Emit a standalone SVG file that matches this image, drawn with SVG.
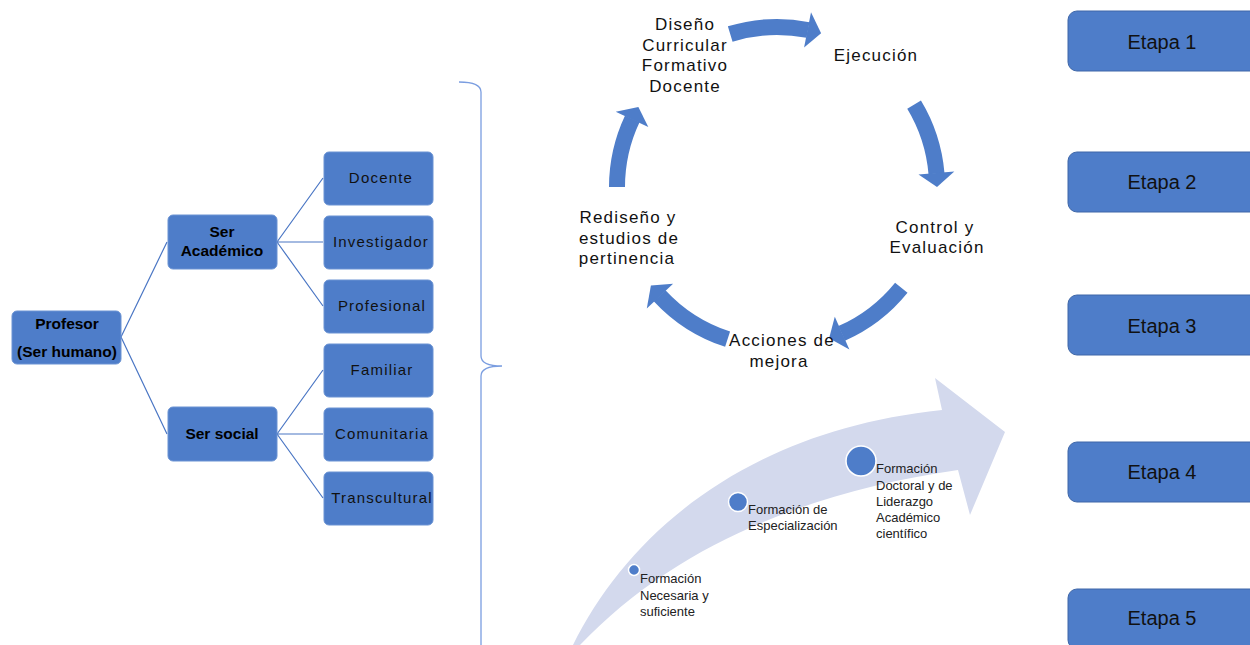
<svg xmlns="http://www.w3.org/2000/svg" width="1250" height="645" viewBox="0 0 1250 645">
<style>
.box{fill:#4e7dc9;stroke:#6a93d3;stroke-width:1}
.etapa{fill:#4e7dc9;stroke:#3f67a8;stroke-width:1}
.lt{font-family:"Liberation Sans",Arial,sans-serif;font-size:15px;letter-spacing:1.2px;fill:#111;text-anchor:middle}
.bt{font-family:"Liberation Sans",Arial,sans-serif;font-size:15.5px;font-weight:bold;fill:#000;text-anchor:middle}
.et{font-family:"Liberation Sans",Arial,sans-serif;font-size:20px;fill:#111;text-anchor:middle}
.ct{font-family:"Liberation Sans",Arial,sans-serif;font-size:17px;letter-spacing:1.2px;fill:#111;text-anchor:middle}
.gt{font-family:"Liberation Sans",Arial,sans-serif;font-size:13px;fill:#222}
.conn{stroke:#4a76c4;stroke-width:1.2;fill:none}
.arc{stroke:#4e7dc9;stroke-width:16;fill:none}
.head{fill:#4e7dc9}
.dot{fill:#4e7dc9;stroke:#ffffff;stroke-width:1.5}
</style>

<!-- growth arrow background -->
<g id="growth">
<path d="M573,645 C630,530 750,430 942,410 L935,378 L1005,432 L970,515 L958,470 C820,490 680,540 580,645 Z" fill="#d3d9ed"/>
<circle class="dot" cx="634" cy="570" r="5.5"/>
<circle class="dot" cx="738" cy="502" r="9.5"/>
<circle class="dot" cx="861" cy="461" r="15"/>
<text class="gt" x="640" y="583">Formación</text>
<text class="gt" x="640" y="600">Necesaria y</text>
<text class="gt" x="640" y="616">suficiente</text>
<text class="gt" x="748" y="514">Formación de</text>
<text class="gt" x="748" y="530">Especialización</text>
<text class="gt" x="876" y="473">Formación</text>
<text class="gt" x="876" y="490">Doctoral y de</text>
<text class="gt" x="876" y="506">Liderazgo</text>
<text class="gt" x="876" y="522">Académico</text>
<text class="gt" x="876" y="538">científico</text>
</g>

<!-- connectors -->
<g id="connectors">
<path class="conn" d="M121,337 L167,242 M121,337 L167,434"/>
<path class="conn" d="M277,242 L323,178 M277,242 L323,242 M277,242 L323,306"/>
<path class="conn" d="M277,434 L323,370 M277,434 L323,434 M277,434 L323,498"/>
<path d="M459,82 Q481,82 481,92 L481,356 Q481,366 502,366 Q481,366 481,376 L481,645" fill="none" stroke="#7a9de0" stroke-width="1.3"/>
</g>

<!-- tree nodes -->
<g id="profesor"><rect class="box" x="12" y="311" width="109" height="53" rx="5"/>
<text class="bt" x="67" y="329">Profesor</text><text class="bt" x="67" y="357">(Ser humano)</text></g>
<g id="ser-academico"><rect class="box" x="168" y="215" width="109" height="54" rx="5"/>
<text class="bt" x="222" y="237">Ser</text><text class="bt" x="222" y="256">Académico</text></g>
<g id="ser-social"><rect class="box" x="168" y="407" width="109" height="54" rx="5"/>
<text class="bt" x="222" y="439">Ser social</text></g>
<g id="docente"><rect class="box" x="324" y="152" width="109" height="53" rx="5"/><text class="lt" x="381" y="183">Docente</text></g>
<g id="investigador"><rect class="box" x="324" y="216" width="109" height="53" rx="5"/><text class="lt" x="381" y="247">Investigador</text></g>
<g id="profesional"><rect class="box" x="324" y="280" width="109" height="53" rx="5"/><text class="lt" x="382" y="311">Profesional</text></g>
<g id="familiar"><rect class="box" x="324" y="344" width="109" height="53" rx="5"/><text class="lt" x="382" y="375">Familiar</text></g>
<g id="comunitaria"><rect class="box" x="324" y="408" width="109" height="53" rx="5"/><text class="lt" x="382" y="439">Comunitaria</text></g>
<g id="transcultural"><rect class="box" x="324" y="472" width="109" height="53" rx="5"/><text class="lt" x="382" y="503">Transcultural</text></g>

<!-- cycle -->
<g id="cycle-arrows">
<path class="arc" d="M730.2,34.0 A160,160 0 0 1 808,30"/>
<polygon class="head" points="811.0,12.3 821.1,33.2 804.1,47.6"/>
<path class="arc" d="M914.1,104.6 A160,160 0 0 1 936.5,173.6"/>
<polygon class="head" points="954.3,171.5 937,187 918.5,174.6"/>
<path class="arc" d="M901.3,287.7 A160,160 0 0 1 841.7,333.4"/>
<polygon class="head" points="849.4,349.6 829.1,338.3 834.8,316.7"/>
<path class="arc" d="M727.6,339.2 A160,160 0 0 1 659.6,295.7"/>
<polygon class="head" points="646.8,308.4 650.9,285.5 673.1,283.8"/>
<path class="arc" d="M617,187 A160,160 0 0 1 632.3,118.9"/>
<polygon class="head" points="615.7,111.8 638.4,107 648.3,127.0"/>
</g>
<g id="diseno"><text class="ct" x="685" y="30">Diseño</text><text class="ct" x="685" y="51">Curricular</text><text class="ct" x="685" y="71">Formativo</text><text class="ct" x="685" y="92">Docente</text></g>
<g id="ejecucion"><text class="ct" x="876" y="61">Ejecución</text></g>
<g id="control"><text class="ct" x="935" y="233">Control y</text><text class="ct" x="937" y="253">Evaluación</text></g>
<g id="acciones"><text class="ct" x="782" y="346">Acciones de</text><text class="ct" x="779" y="367">mejora</text></g>
<g id="rediseno"><text class="ct" x="628" y="223">Rediseño y</text><text class="ct" x="629" y="244">estudios de</text><text class="ct" x="627" y="264">pertinencia</text></g>

<!-- stages -->
<g id="etapa1"><rect class="etapa" x="1068" y="11" width="200" height="60" rx="9"/><text class="et" x="1162" y="49">Etapa 1</text></g>
<g id="etapa2"><rect class="etapa" x="1068" y="152" width="200" height="60" rx="9"/><text class="et" x="1162" y="189">Etapa 2</text></g>
<g id="etapa3"><rect class="etapa" x="1068" y="295" width="200" height="60" rx="9"/><text class="et" x="1162" y="333">Etapa 3</text></g>
<g id="etapa4"><rect class="etapa" x="1068" y="442" width="200" height="60" rx="9"/><text class="et" x="1162" y="479">Etapa 4</text></g>
<g id="etapa5"><rect class="etapa" x="1068" y="589" width="200" height="60" rx="9"/><text class="et" x="1162" y="625">Etapa 5</text></g>
</svg>
